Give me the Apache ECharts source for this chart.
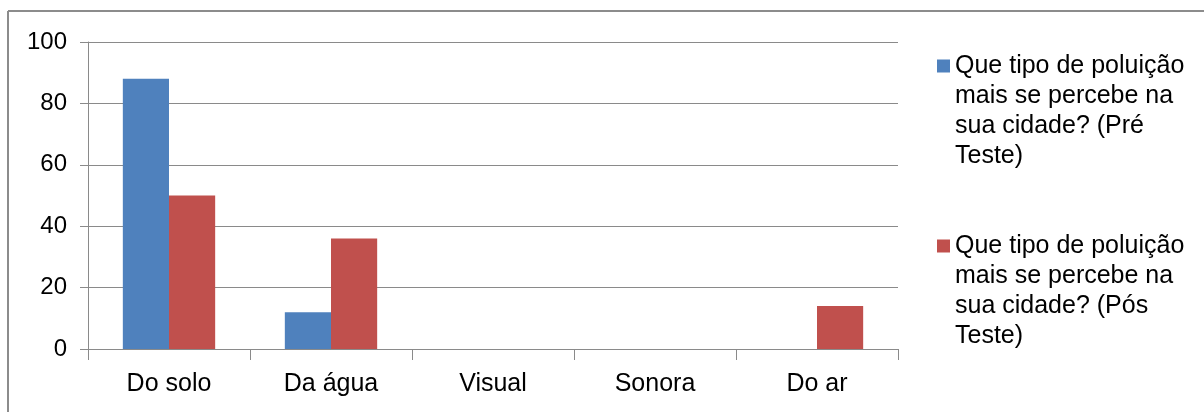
<!DOCTYPE html>
<html>
<head>
<meta charset="utf-8">
<script src="https://cdn.jsdelivr.net/npm/echarts@6/dist/echarts.min.js"></script>
<style>html,body{margin:0;padding:0;background:#fff}#c{width:1204px;height:412px}</style>
</head>
<body>
<div id="c"></div>
<script>
var categories = ['Do solo', 'Da água', 'Visual', 'Sonora', 'Do ar'];
var preTeste = [88, 12, 0, 0, 0];
var posTeste = [50, 36, 0, 0, 14];
var seriesNames = [
  'Que tipo de poluição mais se percebe na sua cidade? (Pré Teste)',
  'Que tipo de poluição mais se percebe na sua cidade? (Pós Teste)'
];
var legendLines = {};
legendLines[seriesNames[0]] = ['Que tipo de poluição', 'mais se percebe na', 'sua cidade? (Pré', 'Teste)'];
legendLines[seriesNames[1]] = ['Que tipo de poluição', 'mais se percebe na', 'sua cidade? (Pós', 'Teste)'];
var yTicks = [0, 20, 40, 60, 80, 100];

var font = '"Liberation Sans", Arial, sans-serif';
var chart = echarts.init(document.getElementById('c'));
chart.setOption({
  animation: false,
  backgroundColor: '#fff',
  textStyle: { fontFamily: font },
  graphic: [
    { type: 'line', shape: { x1: 8, y1: 11, x2: 1204, y2: 11 }, style: { stroke: '#8c8c8c', lineWidth: 2 } },
    { type: 'line', shape: { x1: 8, y1: 11, x2: 8, y2: 412 }, style: { stroke: '#8c8c8c', lineWidth: 2 } }
  ],
  grid: { left: 88, right: 306, top: 42, bottom: 63, containLabel: false },
  legend: {
    orient: 'vertical',
    left: 932,
    top: -44,
    itemWidth: 13,
    itemHeight: 13,
    itemGap: -30,
    icon: 'rect',
    selectedMode: false,
    data: seriesNames,
    formatter: function (n) { return '\n\n\n' + legendLines[n].join('\n'); },
    textStyle: { fontSize: 25, color: '#000', lineHeight: 30, fontFamily: font }
  },
  xAxis: {
    type: 'category',
    data: categories,
    axisLine: { lineStyle: { color: '#8a8a8a', width: 1 } },
    axisTick: { show: true, length: 11, lineStyle: { color: '#8a8a8a' } },
    axisLabel: { fontSize: 25, color: '#000', margin: 23, fontFamily: font }
  },
  yAxis: {
    type: 'value',
    min: 0,
    max: 100,
    interval: 20,
    axisLine: { show: true, lineStyle: { color: '#8a8a8a', width: 1 } },
    axisTick: { show: true, length: 8, lineStyle: { color: '#8a8a8a' } },
    splitLine: { lineStyle: { color: '#8a8a8a', width: 1 } },
    axisLabel: {
      fontSize: 24, color: '#000', margin: 21, fontFamily: font,
      formatter: function (v) { return yTicks.indexOf(v) >= 0 ? String(v) : ''; }
    }
  },
  series: [
    { name: seriesNames[0], type: 'bar', data: preTeste, barGap: '0%', barCategoryGap: '43%',
      itemStyle: { color: '#4F81BD' } },
    { name: seriesNames[1], type: 'bar', data: posTeste, barGap: '0%', barCategoryGap: '43%',
      itemStyle: { color: '#C0504D' } }
  ]
});
</script>
</body>
</html>
